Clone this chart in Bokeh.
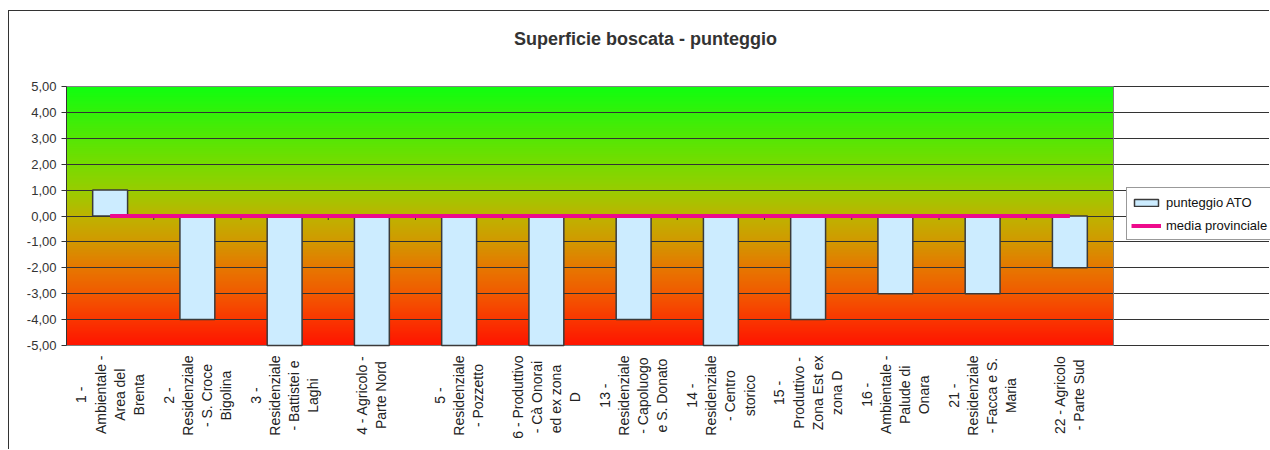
import numpy as np
from bokeh.plotting import figure
from bokeh.models import Range1d, FixedTicker, Legend, LegendItem
from bokeh.core.properties import value
from bokeh.embed import file_html
from bokeh.resources import INLINE

# ---- data ----
categories = [
    "1 -\nAmbientale -\nArea del\nBrenta",
    "2 -\nResidenziale\n- S. Croce\nBigolina",
    "3 -\nResidenziale\n- Battistei e\nLaghi",
    "4 - Agricolo -\nParte Nord",
    "5 -\nResidenziale\n- Pozzetto",
    "6 - Produttivo\n- Cà Onorai\ned  ex zona\nD",
    "13 -\nResidenziale\n- Capoluogo\ne S. Donato",
    "14 -\nResidenziale\n- Centro\nstorico",
    "15 -\nProduttivo -\nZona Est ex\nzona D",
    "16 -\nAmbientale -\nPalude di\nOnara",
    "21 -\nResidenziale\n- Facca e S.\nMaria",
    "22 - Agricolo\n- Parte Sud",
]
punteggio_ato = [1, -4, -5, -5, -5, -5, -4, -5, -4, -3, -3, -2]
media_provinciale = [0, 0, 0, 0, 0, 0, 0, 0, 0, 0, 0, 0]
y_ticks = [-5, -4, -3, -2, -1, 0, 1, 2, 3, 4, 5]
y_tick_labels = ["-5,00", "-4,00", "-3,00", "-2,00", "-1,00", "0,00",
                 "1,00", "2,00", "3,00", "4,00", "5,00"]
title_text = "Superficie boscata - punteggio"
legend_labels = ["punteggio ATO", "media provinciale"]

# ---- layout (pixels) ----
FONT = "Liberation Sans"
W, H = 1261, 439          # canvas size
LEFT = 57                 # y-axis panel width
PLOT_W = 1047             # plot-area width
PLOT_TOP, PLOT_H = 75, 259
n = len(categories)
px_x = PLOT_W / n                              # px per category
px_y = PLOT_H / (y_ticks[-1] - y_ticks[0])     # px per y unit
frame_w = W - LEFT
y_top = y_ticks[-1] + PLOT_TOP / px_y
y_bot = y_top - H / px_y
x_end = frame_w / px_x

xs = [i + 0.5 for i in range(n)]
bounds_x = list(range(n + 1))

p = figure(
    width=W, height=H,
    x_range=Range1d(0, x_end), y_range=Range1d(y_bot, y_top),
    output_backend="svg", toolbar_location=None, x_axis_location=None,
    min_border_left=LEFT, min_border_right=0, min_border_top=0, min_border_bottom=0,
)
p.styles = {"margin-left": "8px", "margin-top": "10px",
            "border-left": "1px solid #333333", "border-top": "1px solid #333333"}
p.outline_line_color = None

# gradient background of the plot area (style only)
stops_v = [-5, -4, -3, -2, -1, 0, 1, 2, 4, 5]
stops_c = np.array([(255, 20, 0), (250, 55, 0), (242, 90, 0), (230, 120, 0), (210, 152, 0),
                    (190, 180, 0), (152, 205, 0), (120, 220, 0), (50, 242, 10), (16, 255, 16)],
                   dtype=float)
nstrip = 130
edges = np.linspace(y_ticks[0], y_ticks[-1], nstrip + 1)
mids = (edges[:-1] + edges[1:]) / 2
cols = ["#%02x%02x%02x" % tuple(int(np.interp(m, stops_v, stops_c[:, k])) for k in range(3))
        for m in mids]
tops = np.minimum(edges[1:] + 1.2 / px_y, y_ticks[-1])
p.quad(left=0, right=n, bottom=edges[:-1], top=tops, fill_color=cols,
       line_color=None, level="image")

# grid
p.xgrid.visible = False
p.ygrid.ticker = FixedTicker(ticks=y_ticks)
p.ygrid.bounds = (0, n)
p.ygrid.grid_line_color = "#333333"
p.ygrid.grid_line_width = 1

# plot-area border
p.quad(left=0, right=n, bottom=y_ticks[0], top=y_ticks[-1], fill_color=None,
       line_color="#808080", line_width=1)

# category axis tick marks at the zero line
p.segment(x0=bounds_x, x1=bounds_x, y0=[0] * (n + 1), y1=[-4 / px_y] * (n + 1),
          line_color="#333333", line_width=1)

bars = p.vbar(x=xs, top=punteggio_ato, bottom=0, width=0.4,
              fill_color="#CCECFF", line_color="#3a3a3a", line_width=1.5)
line = p.line(x=xs, y=media_provinciale, line_color="#EE0A8C", line_width=4)

# category labels (rotated, lines centred, anchored just below the plot area)
label_y = y_ticks[0] - 10 / px_y
p.text(x=xs, y=[label_y] * n, text=categories, angle=np.pi / 2,
       anchor="center_right", text_align="center", text_baseline="middle",
       text_font=value(FONT), text_font_size="14px", text_line_height=1.2,
       text_color="#222222")

# title
p.text(x=[(645 - 9 - LEFT) / px_x], y=[y_top - 27 / px_y], text=[title_text],
       text_align="center", text_baseline="middle",
       text_font=value(FONT), text_font_size="18px", text_font_style="bold",
       text_color="#333333")

# y axis
p.yaxis.ticker = FixedTicker(ticks=y_ticks)
p.yaxis.bounds = (y_ticks[0], y_ticks[-1])
p.yaxis.major_label_overrides = {t: l for t, l in zip(y_ticks, y_tick_labels)}
p.yaxis.major_label_text_font = FONT
p.yaxis.major_label_text_font_size = "13px"
p.yaxis.major_label_text_color = "#333333"
p.yaxis.axis_line_color = "#333333"
p.yaxis.major_tick_line_color = "#333333"
p.yaxis.major_tick_out = 5
p.yaxis.major_tick_in = 0
p.yaxis.minor_tick_line_color = None
p.yaxis.major_label_standoff = 5

legend = Legend(
    items=[LegendItem(label=legend_labels[0], renderers=[bars]),
           LegendItem(label=legend_labels[1], renderers=[line])],
    location=(1060, 210), margin=0, padding=4, spacing=3,
    glyph_width=30, glyph_height=9, label_standoff=5, label_height=20,
    label_text_font=FONT, label_text_font_size="13px", label_text_color="#111111",
    border_line_color="#333333", border_line_width=1, background_fill_alpha=1,
)
p.add_layout(legend)

open("out.html", "w").write(file_html(p, INLINE))
